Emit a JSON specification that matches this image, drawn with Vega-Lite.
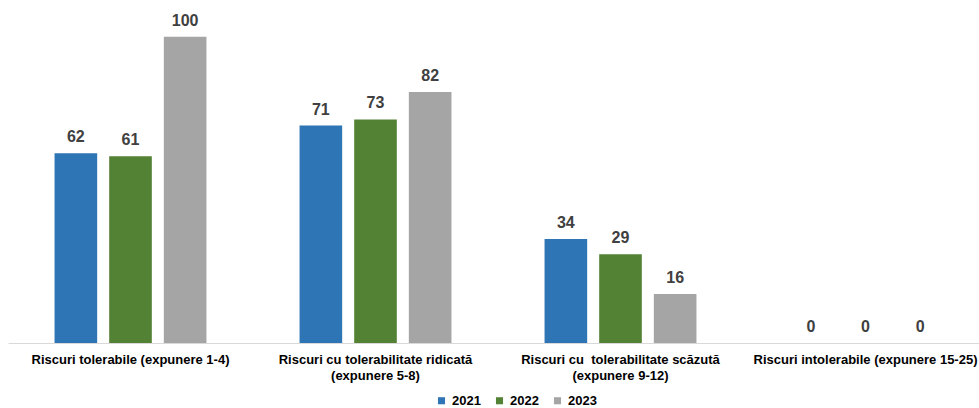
{
  "$schema": "https://vega.github.io/schema/vega-lite/v6.json",
  "width": 980,
  "height": 343,
  "autosize": {"type": "none"},
  "padding": {"left": 8, "top": 0, "right": 0, "bottom": 65},
  "background": "white",
  "config": {
    "view": {"stroke": null},
    "font": "Liberation Sans"
  },
  "data": {
    "values": [
      {"cat": "Riscuri tolerabile (expunere 1-4)", "year": "2021", "value": 62},
      {"cat": "Riscuri tolerabile (expunere 1-4)", "year": "2022", "value": 61},
      {"cat": "Riscuri tolerabile (expunere 1-4)", "year": "2023", "value": 100},
      {"cat": "Riscuri cu tolerabilitate ridicată|(expunere 5-8)", "year": "2021", "value": 71},
      {"cat": "Riscuri cu tolerabilitate ridicată|(expunere 5-8)", "year": "2022", "value": 73},
      {"cat": "Riscuri cu tolerabilitate ridicată|(expunere 5-8)", "year": "2023", "value": 82},
      {"cat": "Riscuri cu\u00a0 tolerabilitate scăzută|(expunere 9-12)", "year": "2021", "value": 34},
      {"cat": "Riscuri cu\u00a0 tolerabilitate scăzută|(expunere 9-12)", "year": "2022", "value": 29},
      {"cat": "Riscuri cu\u00a0 tolerabilitate scăzută|(expunere 9-12)", "year": "2023", "value": 16},
      {"cat": "Riscuri intolerabile (expunere 15-25)", "year": "2021", "value": 0},
      {"cat": "Riscuri intolerabile (expunere 15-25)", "year": "2022", "value": 0},
      {"cat": "Riscuri intolerabile (expunere 15-25)", "year": "2023", "value": 0}
    ]
  },
  "encoding": {
    "x": {
      "field": "cat", "type": "nominal", "sort": null, "title": null,
      "scale": {"paddingInner": 0.38, "paddingOuter": 0.19},
      "axis": {
        "labelAngle": 0,
        "labelExpr": "split(datum.label, '|')",
        "labelFont": "Liberation Sans",
        "labelFontWeight": "bold",
        "labelFontSize": 13,
        "labelColor": "#000000",
        "labelPadding": 10,
        "labelLineHeight": 16,
        "ticks": false,
        "domainColor": "#d9d9d9",
        "domainWidth": 1,
        "labelLimit": 300
      }
    },
    "xOffset": {
      "field": "year", "type": "nominal",
      "scale": {"paddingInner": 0.22, "paddingOuter": 0}
    },
    "y": {
      "field": "value", "type": "quantitative",
      "scale": {"domain": [0, 112]},
      "axis": null
    }
  },
  "layer": [
    {
      "mark": {"type": "bar"},
      "encoding": {
        "color": {
          "field": "year", "type": "nominal",
          "scale": {"domain": ["2021", "2022", "2023"], "range": ["#2E75B6", "#548235", "#A5A5A5"]},
          "legend": {
            "title": null,
            "orient": "none",
            "legendX": 427,
            "legendY": 394,
            "direction": "horizontal",
            "symbolType": "square",
            "symbolSize": 50,
            "labelFont": "Liberation Sans",
            "labelFontWeight": "bold",
            "labelFontSize": 13,
            "labelColor": "#000000",
            "columnPadding": 12
          }
        }
      }
    },
    {
      "mark": {
        "type": "text",
        "baseline": "bottom",
        "dy": -8,
        "font": "Liberation Sans",
        "fontWeight": "bold",
        "fontSize": 16,
        "color": "#404040"
      },
      "encoding": {
        "text": {"field": "value", "type": "quantitative"}
      }
    }
  ]
}
